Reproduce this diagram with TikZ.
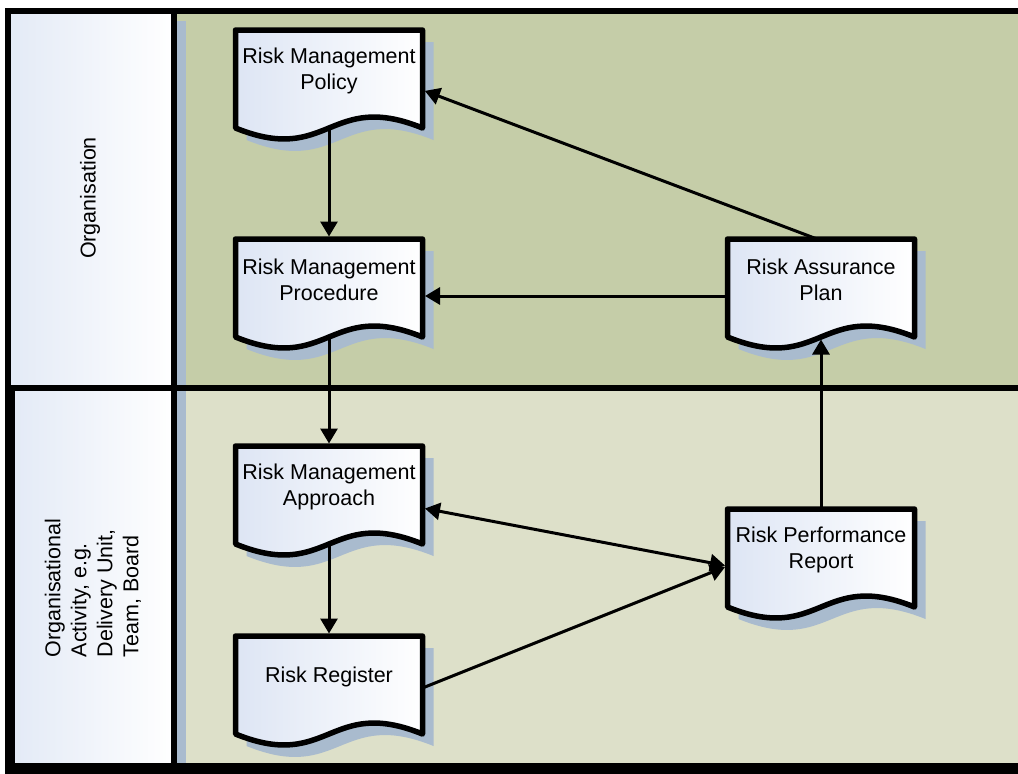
\documentclass[tikz,border=0pt]{standalone}
\usepackage{fontspec}
\setmainfont{Liberation Sans}
\usetikzlibrary{arrows.meta,calc}
\definecolor{laneA}{HTML}{C5CDA8}
\definecolor{laneB}{HTML}{DDE0C9}
\definecolor{docblue}{HTML}{DDE5F4}
\definecolor{hdrblue}{HTML}{E3EAF6}
\definecolor{shadowc}{HTML}{A9BBCE}
\newcommand\docshape[1]{%
 \fill[shadowc] ([shift={(11,12)}]#1.north west) -- ([shift={(11,12)}]#1.south west) .. controls ([shift={(11,50)}]#1.south) and ([shift={(11,-26)}]#1.south) .. ([shift={(11,12)}]#1.south east) -- ([shift={(11,12)}]#1.north east) -- cycle;
 \draw[docline] (#1.north west) -- (#1.south west) .. controls ([shift={(0,38)}]#1.south) and ([shift={(0,-38)}]#1.south) .. (#1.south east) -- (#1.north east) -- cycle;}
\tikzset{
  docnode/.style={rectangle, draw=none, inner sep=0pt, outer sep=0pt, minimum width=187pt, minimum height=98pt},
  docline/.style={draw=black, line width=5.5pt, line join=round, left color=docblue, right color=white},
  doctext/.style={font=\fontsize{21.5}{26}\selectfont, align=center, inner sep=0pt},
  lanetext/.style={font=\fontsize{21.5}{26}\selectfont, inner sep=0pt, rotate=90},
  frame/.style={line width=5.5pt, black},
  conn/.style={draw, line width=3pt, -{Triangle[length=15pt,width=17pt]}, shorten >=2.5pt},
  bconn/.style={draw, line width=3pt, {Triangle[length=15pt,width=17pt]}-{Triangle[length=15pt,width=17pt]}, shorten >=2.5pt, shorten <=2.5pt}
}
\begin{document}
\begin{tikzpicture}[x=1pt,y=-1pt]
\useasboundingbox (0,0) rectangle (1018,774);
\fill[white] (0,0) rectangle (1018,774);
% lane backgrounds
\fill[laneA] (174,11) rectangle (1018,388);
\fill[laneB] (174,388) rectangle (1018,769);
% header shadows
\fill[shadowc] (20,21) rectangle (186,398);
\fill[shadowc] (24,398) rectangle (186,774);
% headers
\fill[left color=hdrblue, right color=white] (8,11) rectangle (174,388);
\fill[left color=hdrblue, right color=white] (12,388) rectangle (174,766);
% frame lines
\draw[frame] (5,11) -- (1018,11);
\draw[frame] (8,8.25) -- (8,769);
\draw[frame] (12,388) -- (12,769);
\draw[frame] (174,8.25) -- (174,769);
\draw[frame] (5,388) -- (1018,388);
\fill[black] (5,763) rectangle (1018,774);
% lane labels
\node[lanetext] (lab1) at (90,198) {Organisation};
\node[lanetext, align=left] (lab2) at (93,588) {Organisational\\Activity, e.g.\\Delivery Unit,\\Team, Board};
% documents
\node[docnode] (pol) at (329,79) {};
\node[docnode] (pro) at (329,288) {};
\node[docnode] (app) at (329,495) {};
\node[docnode] (reg) at (329,685) {};
\node[docnode] (asp) at (821,288) {};
\node[docnode] (rep) at (821,558) {};
\docshape{pol}
\docshape{pro}
\docshape{app}
\docshape{reg}
\docshape{asp}
\docshape{rep}
\node[doctext] (polt) at ([yshift=8pt]pol.center) {Risk Management\\Policy};
\node[doctext] (prot) at ([yshift=8pt]pro.center) {Risk Management\\Procedure};
\node[doctext] (appt) at ([yshift=8pt]app.center) {Risk Management\\Approach};
\node[doctext] (regt) at ([yshift=8pt]reg.center) {Risk Register};
\node[doctext] (aspt) at ([yshift=8pt]asp.center) {Risk Assurance\\Plan};
\node[doctext] (rept) at ([yshift=8pt]rep.center) {Risk Performance\\Report};
% connectors
\draw[conn] (pol.south) -- (pro.north);
\draw[conn] (pro.south) -- (app.north);
\draw[conn] (app.south) -- (reg.north);
\draw[conn] ([yshift=-3pt]reg.east) -- ([yshift=-8pt]rep.west);
\draw[bconn] ([yshift=-13pt]app.east) -- ([yshift=-8pt]rep.west);
\draw[conn] (rep.north) -- (asp.south);
\draw[conn] ([yshift=-8pt]asp.west) -- ([yshift=-8pt]pro.east);
\draw[conn] ([xshift=-4pt]asp.north) -- ([yshift=-11pt]pol.east);
\end{tikzpicture}
\end{document}
